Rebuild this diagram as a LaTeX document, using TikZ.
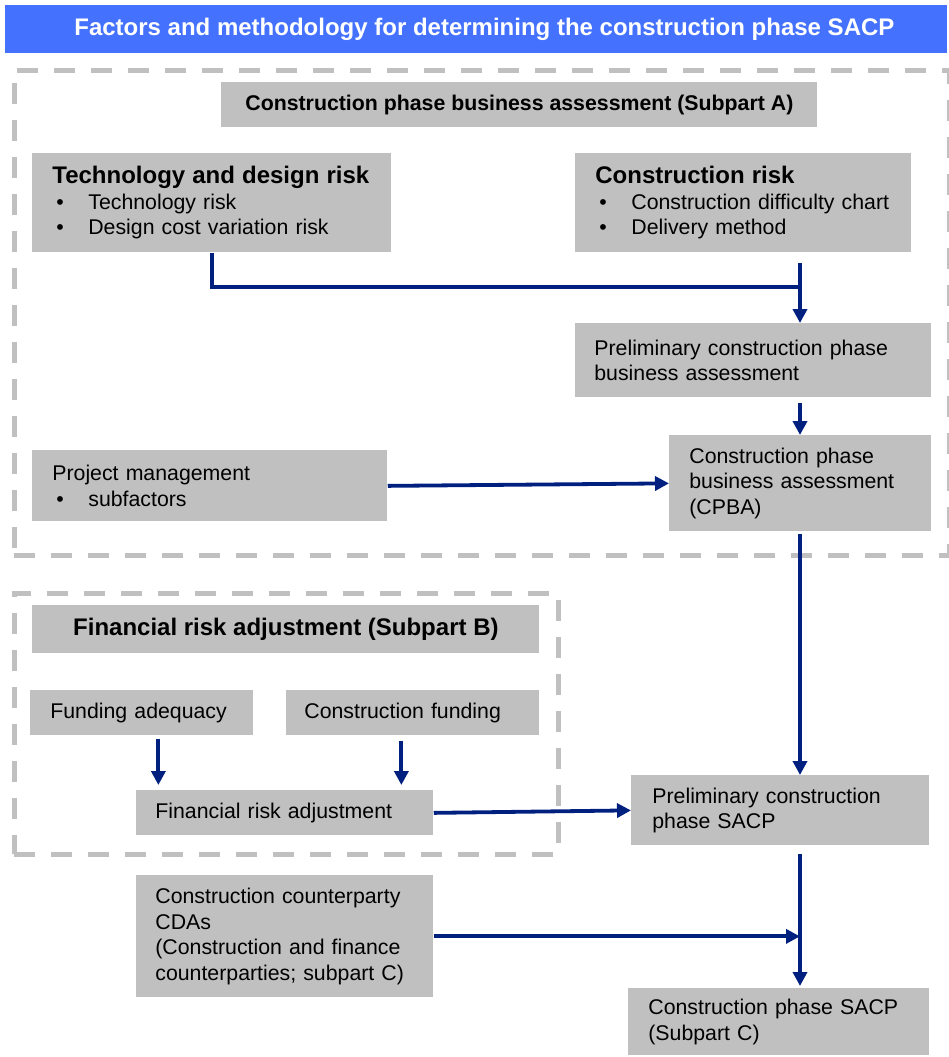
\documentclass[tikz,border=0pt]{standalone}
\usepackage{fontspec}
\setmainfont{Liberation Sans}
\usetikzlibrary{arrows.meta,calc}
\definecolor{headblue}{RGB}{68,114,255}
\definecolor{boxgrey}{RGB}{192,192,192}
\definecolor{flownavy}{RGB}{0,32,128}
\tikzset{every picture/.style={line width=0.75pt}}
\tikzset{
  greybox/.style={fill=boxgrey, anchor=north west, inner ysep=0pt, align=left,
    font=\fontsize{21.3}{25.5}\selectfont},
  titlebox/.style={fill=boxgrey, anchor=north west, inner sep=0pt, align=center},
  dashbox/.style={draw=boxgrey, line width=4.5pt, dash pattern=on 21pt off 16pt,
    anchor=north west, inner sep=0pt},
  flow/.style={draw=flownavy, line width=3.8pt},
  flowarrow/.style={flow, -{Triangle[length=14pt,width=14pt]}},
}
\newcommand{\bulitem}[1]{\hspace*{4pt}\makebox[32pt][l]{\textbullet}#1}
\newcommand{\boxhead}[1]{{\fontsize{24}{26}\selectfont\bfseries #1}}

\begin{document}
\begin{tikzpicture}[x=1pt,y=-1pt]
    \useasboundingbox (0,0) rectangle (949,1057);

    % Heading bar
    \node[fill=headblue, anchor=north west, minimum width=942, minimum height=48,
          inner sep=0pt, text=white, font=\fontsize{24}{28}\selectfont\bfseries]
          (heading) at (5,5) {\hspace*{16pt}Factors and methodology for determining the construction phase SACP};

    % Dashed frames for subpart A and subpart B
    \node[dashbox, minimum width=935, minimum height=485] (partA) at (12,68) {};
    \node[dashbox, minimum width=544, minimum height=261] (partB) at (12,591) {};

    % Subpart A
    \node[titlebox, minimum width=596, minimum height=45, font=\fontsize{21.3}{25}\selectfont\bfseries]
          (subA) at (221,82) {Construction phase business assessment (Subpart A)};
    \node[greybox, minimum width=359, minimum height=99, text width=319, inner xsep=20]
          (tech) at (32,153) {\boxhead{Technology and design risk}\\
          \bulitem{Technology risk}\\ \bulitem{Design cost variation risk}};
    \node[greybox, minimum width=336, minimum height=99, text width=296, inner xsep=20]
          (crisk) at (575,153) {\boxhead{Construction risk}\\
          \bulitem{Construction difficulty chart}\\ \bulitem{Delivery method}};
    \node[greybox, minimum width=356, minimum height=74, text width=318, inner xsep=19]
          (prelim) at (575,323) {Preliminary construction phase\\ business assessment};
    \node[greybox, minimum width=262, minimum height=96, text width=222, inner xsep=20]
          (cpba) at (669,435) {Construction phase\\ business assessment\\ (CPBA)};
    \node[greybox, minimum width=355, minimum height=71, text width=315, inner xsep=20]
          (pm) at (32,450) {Project management\\ \bulitem{subfactors}};

    % Subpart B
    \node[titlebox, minimum width=507, minimum height=48, font=\fontsize{24}{26}\selectfont\bfseries]
          (subB) at (32,605) {Financial risk adjustment (Subpart B)};
    \node[greybox, minimum width=223, minimum height=45, text width=183, inner xsep=20]
          (fa) at (30,690) {Funding adequacy};
    \node[greybox, minimum width=253, minimum height=45, text width=217, inner xsep=18]
          (cf) at (286,690) {Construction funding};
    \node[greybox, minimum width=297, minimum height=45, text width=259, inner xsep=19]
          (fra) at (136,790) {Financial risk adjustment};

    % Subpart C
    \node[greybox, minimum width=298, minimum height=70, text width=256, inner xsep=21]
          (psacp) at (631,775) {Preliminary construction\\ phase SACP};
    \node[greybox, minimum width=297, minimum height=122, text width=259, inner xsep=19]
          (cda) at (136,875) {Construction counterparty\\ CDAs\\ (Construction and finance\\ counterparties; subpart C)};
    \node[greybox, minimum width=301, minimum height=67, text width=261, inner xsep=20]
          (final) at (628,988) {Construction phase SACP\\ (Subpart C)};

    % Connectors
    \coordinate (merge) at (800,287);
    \draw[flow] (tech.south) |- (merge);
    \draw[flowarrow] ([yshift=-10]crisk.south -| merge) -- (prelim.north -| merge);
    \draw[flowarrow] ([yshift=-5]prelim.south -| merge) -- (cpba.north -| merge);
    \draw[flowarrow] (pm.east) -- (cpba.west);
    \draw[flowarrow] ([yshift=-2]cpba.south -| merge) -- (psacp.north -| merge);
    \draw[flowarrow] ([xshift=16.5,yshift=-3]fa.south) -- ([xshift=16.5,yshift=5]fa.south |- fra.north);
    \draw[flowarrow] ([xshift=-11.5,yshift=-5]cf.south) -- ([xshift=-11.5,yshift=5]cf.south |- fra.north);
    \draw[flowarrow] (fra.east) -- (psacp.west);
    \draw[flowarrow] ([yshift=-8]psacp.south -| merge) -- ([yshift=2]final.north -| merge);
    \draw[flowarrow] (cda.east) -- (cda.east -| merge);
\end{tikzpicture}
\end{document}
